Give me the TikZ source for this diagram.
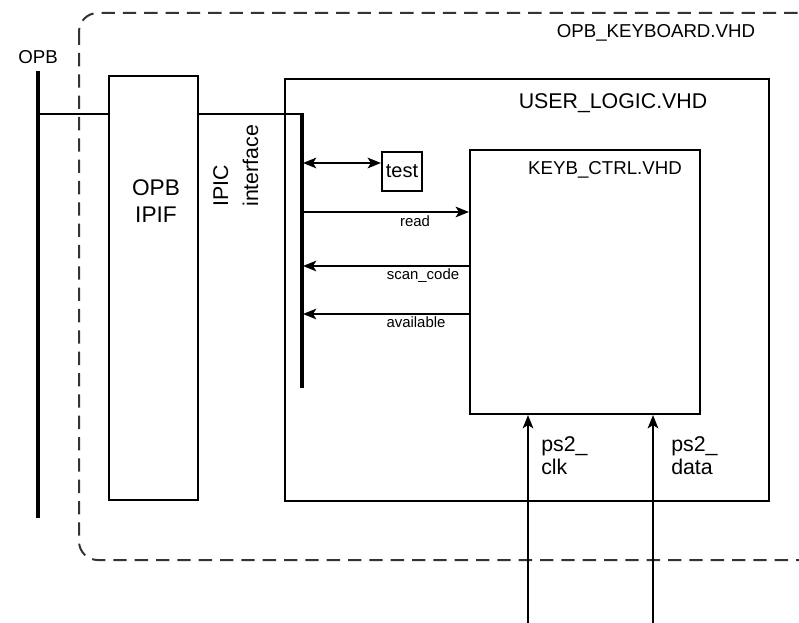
\documentclass[tikz,border=0pt]{standalone}
\usepackage{fontspec}
\setmainfont{Liberation Sans}
\usetikzlibrary{arrows.meta,fit}
\begin{document}
\begin{tikzpicture}[x=0.75pt,y=-0.75pt,
  blk/.style={draw, line width=1.6pt, inner sep=0pt},
  bus/.style={line width=3pt},
  wire/.style={line width=1.6pt},
  sig/.style={line width=1.3pt, -{Stealth[length=10pt,width=8pt,inset=2.5pt]}},
  dsig/.style={line width=1.3pt, {Stealth[length=10pt,width=8pt,inset=2.5pt]}-{Stealth[length=10pt,width=8pt,inset=2.5pt]}},
  txt/.style={inner sep=0pt, align=left},
  lbl/.style={inner sep=0pt, font=\fontsize{11.2}{12}\selectfont},
]
\useasboundingbox (0,0) rectangle (799,623);

% outer wrapper (dashed), runs off the right edge
\draw[line width=1.5pt, black!80, dash pattern=on 10pt off 6pt, rounded corners=14pt]
  (79,13) rectangle (830,560);
\node[txt, font=\fontsize{14}{16}\selectfont] (topname) at (656,33) {OPB\_KEYBOARD.VHD};

% OPB bus
\coordinate (opbTop) at (38,71);
\coordinate (opbBot) at (38,518);
\coordinate (opbTap) at (38,114);
\draw[bus] (opbTop) -- (opbBot);
\node[txt, font=\fontsize{14}{16}\selectfont] (opblbl) at (38,57) {OPB};

% OPB IPIF block
\node[blk, fit={(109,76) (198,500)}] (ipif) {};
\node[txt, align=center, font=\fontsize{17}{20}\selectfont] (ipiftxt) at (156,201) {OPB\\IPIF};

% user logic block
\node[blk, fit={(285,79) (769,501)}] (ulogic) {};
\node[txt, font=\fontsize{16}{18}\selectfont] (ulname) at (613,103) {USER\_LOGIC.VHD};

% keyboard controller block
\node[blk, fit={(470,150) (700,414)}] (keyb) {};
\node[txt, font=\fontsize{14}{16}\selectfont] (kbname) at (605,170) {KEYB\_CTRL.VHD};

% test register
\node[blk, fit={(382,152) (422,191)}] (test) {};
\node[txt, font=\fontsize{15}{16}\selectfont] (testtxt) at (402,171) {test};

% IPIC bus
\coordinate (ipicTop) at (302,114);
\coordinate (ipicBot) at (302,388);
\draw[wire] (opbTap) -- (opbTap -| ipif.west);
\draw[wire] (ipif.east |- ipicTop) -- (ipicTop);
\draw[bus] ([yshift=0.75pt]ipicTop) -- (ipicBot);
\node[txt, rotate=90, anchor=north west, font=\fontsize{16}{22.5}\selectfont] (ipiclbl) at (213,207) {IPIC\\interface};

% IPIC signals
\coordinate (tTap) at (303,163);
\coordinate (rTap) at (303,212);
\coordinate (sTap) at (303,266);
\coordinate (aTap) at (303,314);
\draw[dsig] (tTap) -- (tTap -| test.west);
\draw[sig] (rTap) -- (rTap -| keyb.west);
\draw[sig] (sTap -| keyb.west) -- (sTap);
\draw[sig] (aTap -| keyb.west) -- (aTap);
\node[lbl] (readlbl) at (415,221) {read};
\node[lbl] (scanlbl) at (423,276) {scan\_code};
\node[lbl] (availlbl) at (416,322) {available};

% PS/2 inputs
\coordinate (clkIn) at (528,623);
\coordinate (datIn) at (653,623);
\draw[sig] (clkIn) -- (clkIn |- keyb.south);
\draw[sig] (datIn) -- (datIn |- keyb.south);
\node[txt, anchor=north west, font=\fontsize{16}{17.25}\selectfont] (clklbl) at (541,436) {ps2\_\\clk};
\node[txt, anchor=north west, font=\fontsize{16}{17.25}\selectfont] (datlbl) at (671,436) {ps2\_\\data};
\end{tikzpicture}
\end{document}
